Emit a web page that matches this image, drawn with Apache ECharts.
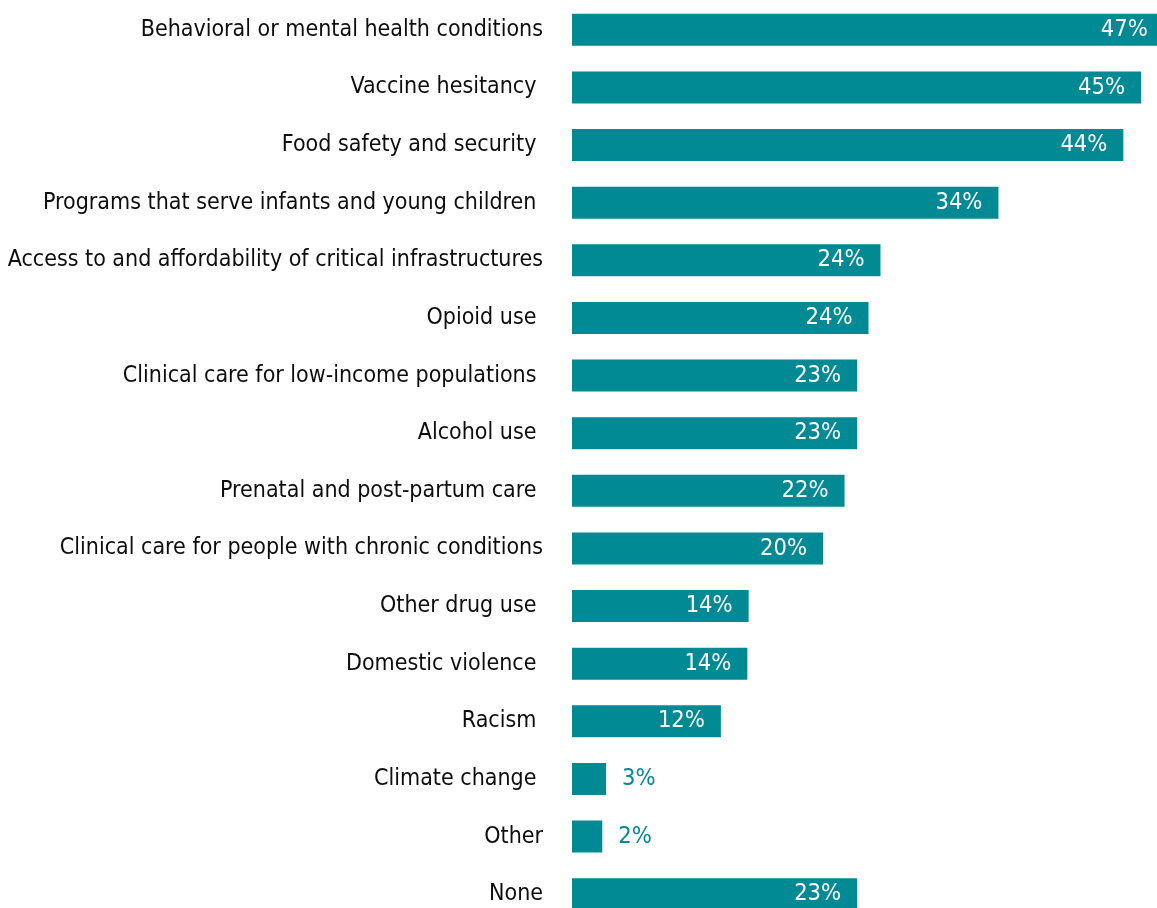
<!DOCTYPE html>
<html>
<head>
<meta charset="utf-8">
<script src="https://cdn.jsdelivr.net/npm/echarts@6/dist/echarts.min.js"></script>
<style>
html,body{margin:0;padding:0;background:#fff;}
#chart{width:1157px;height:908px;}
</style>
</head>
<body>
<div id="chart"></div>
<script>
const categories = [
  "Behavioral or mental health conditions",
  "Vaccine hesitancy ",
  "Food safety and security ",
  "Programs that serve infants and young children ",
  "Access to and affordability of critical infrastructures",
  "Opioid use ",
  "Clinical care for low-income populations ",
  "Alcohol use ",
  "Prenatal and post-partum care ",
  "Clinical care for people with chronic conditions",
  "Other drug use ",
  "Domestic violence ",
  "Racism ",
  "Climate change ",
  "Other",
  "None"
];
const values = [46.9, 45.1, 43.7, 33.8, 24.45, 23.5, 22.6, 22.6, 21.6, 19.9, 14.0, 13.9, 11.8, 2.7, 2.4, 22.6];

const TEAL = '#028a94';
const FONT = '"Liberation Sans Narrow", "DejaVu Sans Condensed", sans-serif';

const seriesData = values.map(v => {
  const outside = v < 5;
  return {
    value: v,
    label: outside
      ? { position: 'right', distance: 16, color: TEAL }
      : { position: 'insideRight', distance: 16, color: '#ffffff' }
  };
});

const chart = echarts.init(document.getElementById('chart'), null, { renderer: 'canvas' });
chart.setOption({
  animation: false,
  backgroundColor: '#ffffff',
  grid: { left: 572, right: -8, top: 1, bottom: -15, containLabel: false, outerBoundsMode: 'none' },
  xAxis: {
    type: 'value', min: 0, max: 47, show: false
  },
  yAxis: {
    type: 'category',
    data: categories,
    inverse: true,
    axisLine: { show: false },
    axisTick: { show: false },
    splitLine: { show: false },
    axisLabel: {
      margin: 29,
      color: '#0d0d0d',
      fontFamily: FONT,
      fontSize: 23
    }
  },
  series: [{
    type: 'bar',
    data: seriesData,
    barWidth: 32,
    itemStyle: { color: TEAL },
    label: {
      show: true,
      fontFamily: FONT,
      fontSize: 23.5,
      formatter: p => Math.round(p.value) + '%'
    }
  }]
});
</script>
</body>
</html>
